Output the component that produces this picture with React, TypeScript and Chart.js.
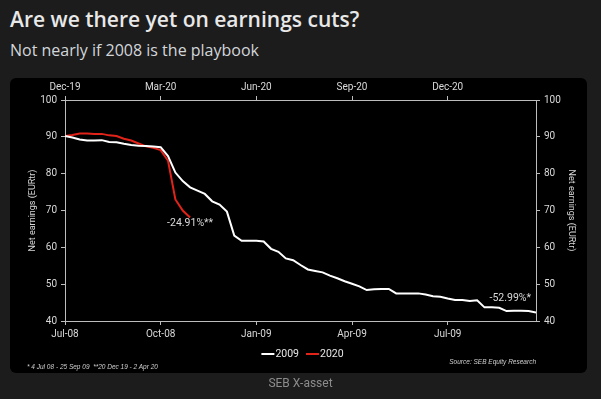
import React, { useEffect, useRef } from "react";
import { Chart, registerables } from "chart.js";

Chart.register(...registerables);

// Weekly net earnings (EURtr), 4 Jul 08 - 25 Sep 09
const SERIES_2009 = [
  90.2, 89.8, 89.3, 89.0, 89.0, 89.1, 88.6, 88.5, 88.1, 87.8,
  87.6, 87.5, 87.4, 87.2, 84.8, 80.3, 78.0, 76.3, 75.4, 74.5,
  72.5, 71.6, 69.7, 63.2, 61.8, 61.8, 61.8, 61.6, 59.6, 58.8,
  57.0, 56.5, 55.2, 54.0, 53.6, 53.2, 52.3, 51.6, 50.8, 50.1,
  49.4, 48.4, 48.6, 48.7, 48.7, 47.5, 47.5, 47.5, 47.5, 47.2,
  46.7, 46.6, 46.1, 45.7, 45.7, 45.4, 45.6, 43.7, 43.7, 43.6,
  42.7, 42.8, 42.8, 42.7, 42.3,
];
// Weekly net earnings (EURtr), 20 Dec 19 - 2 Apr 20
const SERIES_2020 = [
  90.2, 90.5, 90.9, 90.9, 90.8, 90.8, 90.4, 90.2, 89.5, 89.0,
  88.2, 87.4, 87.0, 86.4, 83.5, 73.0, 70.0, 68.1,
];
const SERIES_LABELS = ["2009", "2020"];
const SERIES_COLORS = ["#ffffff", "#e2231a"];
const END_LABELS = ["-52.99%*", "-24.91%**"];

const X_TICK_POS = [0, 13, 26, 39, 52];
const BOTTOM_TICK_LABELS = ["Jul-08", "Oct-08", "Jan-09", "Apr-09", "Jul-09"];
const TOP_TICK_LABELS = ["Dec-19", "Mar-20", "Jun-20", "Sep-20", "Dec-20"];
const X_MIN = 0;
const X_MAX = 64;
const Y_MIN = 40;
const Y_MAX = 100;
const Y_STEP = 10;
const Y_TITLE = "Net earnings (EURtr)";

const FONT = "Roboto";
const AXIS_COLOR = "#bdbdbd";
const TEXT_COLOR = "#d9d9d9";

const overlayPlugin = {
  id: "overlay",
  afterDatasetsDraw(chart: any) {
    const { ctx, scales, chartArea } = chart;
    const xs = scales.x;
    const ys = scales.y;
    ctx.save();
    ctx.font = `10.5px ${FONT}`;
    ctx.fillStyle = TEXT_COLOR;
    // end-of-series labels
    const wi = SERIES_2009.length - 1;
    let px = xs.getPixelForValue(wi);
    let py = ys.getPixelForValue(SERIES_2009[wi]);
    ctx.textAlign = "right";
    ctx.textBaseline = "middle";
    ctx.fillText(END_LABELS[0], px - 5, py - 14);
    const ri = SERIES_2020.length - 1;
    px = xs.getPixelForValue(ri);
    py = ys.getPixelForValue(SERIES_2020[ri]);
    ctx.textAlign = "center";
    ctx.fillText(END_LABELS[1], px, py + 6);

    // legend
    ctx.font = `10.5px ${FONT}`;
    ctx.textAlign = "left";
    const lineW = 13;
    const gap = 1;
    const itemGap = 7;
    const widths = SERIES_LABELS.map((l) => ctx.measureText(l).width);
    const total =
      widths.reduce((a, b) => a + b, 0) + SERIES_LABELS.length * (lineW + gap) + itemGap * (SERIES_LABELS.length - 1);
    let x = (chartArea.left + chartArea.right) / 2 - total / 2 + 2;
    const y = 276;
    SERIES_LABELS.forEach((l, i) => {
      ctx.strokeStyle = SERIES_COLORS[i];
      ctx.lineWidth = 2;
      ctx.beginPath();
      ctx.moveTo(x, y);
      ctx.lineTo(x + lineW, y);
      ctx.stroke();
      ctx.fillStyle = "#e6e6e6";
      ctx.fillText(l, x + lineW + gap, y);
      x += lineW + gap + widths[i] + itemGap;
    });
    ctx.restore();
  },
};

function xScale(position: string, labels: string[], height: number) {
  return {
    type: "linear",
    position,
    min: X_MIN,
    max: X_MAX,
    afterBuildTicks: (s: any) => {
      s.ticks = X_TICK_POS.map((v) => ({ value: v }));
    },
    afterFit: (s: any) => {
      s.height = height;
    },
    grid: { drawOnChartArea: false, drawTicks: true, tickLength: 4, color: AXIS_COLOR },
    border: { display: true, color: AXIS_COLOR, width: 1 },
    ticks: {
      autoSkip: false,
      maxRotation: 0,
      padding: 3,
      color: TEXT_COLOR,
      font: { family: FONT, size: 10 },
      callback: (v: number) => {
        const i = X_TICK_POS.indexOf(v);
        return i >= 0 ? labels[i] : "";
      },
    },
  };
}

function yScale(position: string, width: number, titlePad: number) {
  return {
    type: "linear",
    position,
    min: Y_MIN,
    max: Y_MAX,
    afterFit: (s: any) => {
      s.width = width;
    },
    grid: { drawOnChartArea: false, drawTicks: true, tickLength: 4, color: AXIS_COLOR },
    border: { display: true, color: AXIS_COLOR, width: 1 },
    ticks: {
      stepSize: Y_STEP,
      padding: 4,
      color: TEXT_COLOR,
      font: { family: FONT, size: 10 },
    },
    title: {
      display: true,
      text: Y_TITLE,
      color: TEXT_COLOR,
      font: { family: FONT, size: 9 },
      padding: { top: titlePad, bottom: 0 },
    },
  };
}

function ChartPanel() {
  const ref = useRef<HTMLCanvasElement | null>(null);
  useEffect(() => {
    if (!ref.current) return;
    const chart = new Chart(ref.current, {
      type: "line",
      data: {
        datasets: [
          {
            label: SERIES_LABELS[0],
            data: SERIES_2009.map((v, i) => ({ x: i, y: v })),
            borderColor: SERIES_COLORS[0],
            borderWidth: 2,
            pointRadius: 0,
            tension: 0,
            xAxisID: "x",
            yAxisID: "y",
          },
          {
            label: SERIES_LABELS[1],
            data: SERIES_2020.map((v, i) => ({ x: i, y: v })),
            borderColor: SERIES_COLORS[1],
            borderWidth: 2,
            pointRadius: 0,
            tension: 0,
            xAxisID: "x",
            yAxisID: "y",
          },
        ],
      },
      options: {
        responsive: false,
        animation: false,
        layout: { padding: 0 },
        plugins: { legend: { display: false }, tooltip: { enabled: false } },
        scales: {
          x: xScale("bottom", BOTTOM_TICK_LABELS, 52),
          x2: xScale("top", TOP_TICK_LABELS, 22),
          y: yScale("left", 55, 17.6),
          y2: yScale("right", 51, 10.6),
        } as any,
      },
      plugins: [overlayPlugin],
    } as any);
    return () => chart.destroy();
  }, []);
  return <canvas ref={ref} width={577} height={295} style={{ width: 577, height: 295, display: "block" }} />;
}

export default function App() {
  return (
    <div
      style={{
        position: "fixed",
        left: 0,
        top: 0,
        width: 601,
        height: 399,
        background: "#1c1c1c",
        overflow: "hidden",
        fontFamily: "'Open Sans', sans-serif",
      }}
    >
      <div
        style={{
          position: "absolute",
          left: 10,
          top: 5,
          fontSize: 21,
          fontWeight: 600,
          color: "#e8e8e8",
          whiteSpace: "nowrap",
        }}
      >
        Are we there yet on earnings cuts?
      </div>
      <div
        style={{
          position: "absolute",
          left: 10,
          top: 39,
          fontSize: 16,
          color: "#d2d6da",
          whiteSpace: "nowrap",
        }}
      >
        Not nearly if 2008 is the playbook
      </div>
      <div
        style={{
          position: "absolute",
          left: 10,
          top: 78,
          width: 577,
          height: 295,
          background: "#000",
          borderRadius: 6,
          overflow: "hidden",
        }}
      >
        <ChartPanel />
        <div
          style={{
            position: "absolute",
            left: 17,
            top: 285,
            fontFamily: "'Liberation Sans', sans-serif",
            fontStyle: "italic",
            fontSize: 6.5,
            color: "#cfcfcf",
            whiteSpace: "pre",
            lineHeight: "8px",
          }}
        >
          {"* 4 Jul 08 - 25 Sep 09  **20 Dec 19 - 2 Apr 20"}
        </div>
        <div
          style={{
            position: "absolute",
            right: 51,
            top: 280,
            fontFamily: "'Liberation Sans', sans-serif",
            fontStyle: "italic",
            fontSize: 6.5,
            color: "#cfcfcf",
            whiteSpace: "pre",
            lineHeight: "8px",
          }}
        >
          Source: SEB Equity Research
        </div>
      </div>
      <div
        style={{
          position: "absolute",
          left: 0,
          width: 601,
          top: 376,
          textAlign: "center",
          fontSize: 12,
          color: "#8c8c8c",
          fontFamily: "Roboto, sans-serif",
        }}
      >
        SEB X-asset
      </div>
    </div>
  );
}
